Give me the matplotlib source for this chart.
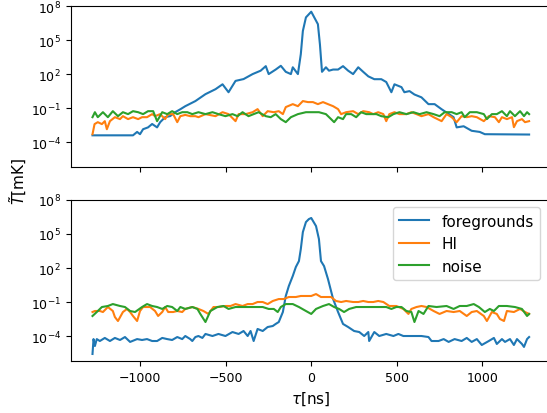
import numpy as np
import matplotlib
matplotlib.use('Agg')
from matplotlib import pyplot as plt
from matplotlib.ticker import FixedLocator, NullLocator

# values, stored as log10(T / mK)
# --- upper panel ---
tau_fg1 = [-1280, -1043, -1019, -1002, -984, -955, -931, -902, -884, -855, -825, -796, -766, -737,
           -678, -619, -560, -519, -484, -443, -396, -343, -296, -266, -249, -208, -178, -149, -119,
           -108, -78, -61, -49, -31, 0, 39, 51, 63, 86, 104, 128, 157, 186, 216, 245, 275, 304, 334,
           369, 410, 439, 469, 487, 528, 545, 575, 604, 645, 686, 722, 763, 833, 851, 892, 939, 986,
           1016, 1275]
fg1 = [-3.4, -3.4, -3.1, -3.3, -2.86, -2.7, -2.4, -2.7, -2.24, -1.8, -1.7, -1.36, -1.1, -0.83,
       -0.38, 0.23, 0.67, 1.1, 0.4, 1.4, 1.56, 2.0, 2.3, 2.7, 2.0, 2.4, 2.73, 2.2, 2.0,
       2.6, 2.0, 3.76, 5.8, 7.0, 7.5, 6.4, 4.6, 2.2, 2.6, 2.3, 2.4, 2.4, 2.7, 2.3, 2.0, 2.6, 2.2, 1.8,
       1.55, 1.55, 1.3, 0.4, 1.1, 0.85, 0.4, 0.5, 0.2, -0.05, -0.65, -0.65, -1.1, -1.8, -2.7, -2.6,
       -3.0, -3.1, -3.3, -3.33]

tau_hi1 = [-1280, -1268, -1249, -1225, -1208, -1196, -1178, -1149, -1119, -1102, -1072, -1043, -1013,
           -990, -961, -931, -914, -884, -855, -837, -808, -784, -766, -737, -708, -678, -660, -619,
           -560, -519, -484, -443, -425, -384, -343, -314, -284, -255, -219, -190, -166, -149, -108,
           -78, -49, -19, 10, 39, 69, 98, 128, 157, 175, 204, 245, 275, 304, 339, 363, 392, 422, 439,
           457, 487, 516, 557, 586, 616, 645, 686, 716, 763, 792, 822, 851, 880, 910, 939, 969, 1010,
           1039, 1075, 1098, 1116, 1145, 1175, 1186, 1204, 1233, 1251, 1275]
hi1 = [-3.3, -2.41, -2.24, -2.41, -2.15, -2.86, -2.15, -1.8, -1.97, -1.71, -1.97, -1.8, -1.97,
       -1.8, -1.8, -1.53, -1.71, -1.53, -1.97, -1.53, -1.53, -2.24, -1.71, -1.6, -1.71, -1.71, -1.8, -1.53,
       -1.71, -1.36, -1.53, -2.15, -1.53, -1.53, -1.36, -1.09, -1.71, -1.27, -1.36, -1.27, -1.53, -0.91, -0.65,
       -0.83, -0.38, -0.47, -0.47, -0.65, -0.47, -0.65, -0.83, -1.09, -1.53, -1.36, -1.27, -1.53, -1.27, -1.36, -1.53, -1.36, -1.53, -2.15,
       -1.53, -1.36, -1.53, -1.53, -1.36, -1.53, -1.71, -1.53, -1.8, -2.15, -1.53, -1.8, -2.24, -1.71, -1.8, -1.71, -1.8, -2.15,
       -1.71, -1.8, -2.24, -1.8, -1.97, -1.8, -2.68, -2.15, -1.97, -2.24, -2.15]

tau_no1 = [-1280, -1266, -1249, -1219, -1190, -1161, -1131, -1102, -1072, -1043, -1013, -984, -955,
           -925, -902, -872, -843, -814, -784, -755, -725, -696, -660, -619, -578, -543, -502, -461,
           -431, -402, -367, -337, -308, -266, -237, -208, -178, -149, -119, -78, -31, 10, 45, 86,
           116, 134, 157, 186, 204, 234, 263, 292, 322, 351, 381, 410, 451, 481, 516, 557, 598, 634,
           675, 716, 751, 781, 822, 851, 880, 898, 928, 969, 1010, 1028, 1057, 1086, 1116, 1145,
           1163, 1192, 1222, 1245, 1263, 1275]
no1 = [-1.8, -1.36, -1.8, -1.36, -1.8, -1.27, -1.71, -1.36, -1.53, -1.27, -1.36, -1.53, -1.27,
       -1.27, -2.15, -1.36, -1.53, -1.27, -1.53, -1.36, -1.36, -1.53, -1.36, -1.53, -1.36, -1.53, -1.71, -1.53,
       -1.71, -1.36, -1.71, -1.53, -1.36, -1.71, -1.8, -1.53, -1.97, -2.24, -1.8, -1.53, -1.36, -1.36, -1.36, -1.53,
       -1.97, -2.24, -1.8, -1.97, -1.53, -1.53, -1.8, -1.36, -1.53, -1.53, -1.53, -1.71, -1.8, -1.53, -1.36, -1.53, -1.36, -1.53,
       -1.36, -1.53, -1.71, -1.36, -1.36, -1.53, -1.36, -1.8, -1.36, -1.36, -1.53, -1.97, -1.53, -1.53, -1.27, -1.71,
       -1.27, -1.71, -1.27, -1.71, -1.36, -1.53]

# --- lower panel ---
tau_fg2 = [-1280, -1274, -1266, -1255, -1237, -1208, -1178, -1149, -1119, -1090, -1060, -1019, -990,
           -961, -931, -902, -872, -843, -814, -784, -755, -737, -708, -696, -678, -660, -637, -619,
           -578, -543, -502, -461, -425, -396, -372, -355, -337, -314, -284, -255, -225, -208, -190,
           -166, -149, -131, -108, -90, -72, -61, -49, -31, -14, 0, 28, 45, 57, 75, 98, 128, 157, 186,
           216, 251, 281, 310, 334, 339, 369, 398, 439, 481, 510, 539, 575, 616, 645, 686, 704, 745,
           775, 804, 839, 880, 910, 939, 969, 998, 1039, 1069, 1086, 1116, 1134, 1163, 1186, 1204,
           1233, 1245, 1263, 1275]
fg2 = [-5.56, -4.25, -4.86, -4.25, -4.42, -4.15, -4.42, -4.15, -4.33, -4.07, -4.5, -4.25, -4.33,
       -4.25, -4.42, -4.42, -4.15, -4.25, -4.33, -4.07, -4.25, -3.98, -4.25, -4.42, -4.07, -3.98, -4.15, -3.8,
       -3.98, -3.8, -3.98, -3.63, -3.8, -3.54, -3.98, -3.54, -4.42, -3.36, -3.54, -3.19, -3.1, -2.92, -2.75,
       -1.87, -0.46, 0.42, 1.3, 2.09, 2.61, 3.67, 5.16, 6.04, 6.3, 6.4, 5.69, 4.55, 2.61, 2.17, 1.03, -0.73, -1.87, -2.92,
       -3.19, -3.54, -3.63, -3.98, -3.63, -4.42, -3.63, -3.98, -3.8, -3.98, -3.8, -3.98, -3.98, -3.98, -3.98, -4.07, -4.42, -4.42,
       -4.25, -4.5, -4.25, -4.42, -4.15, -4.5, -4.25, -4.77, -4.42, -4.15, -4.68, -4.25, -4.5, -4.25, -4.77, -4.25,
       -4.68, -4.94, -4.25, -4.07]

tau_hi2 = [-1280, -1266, -1237, -1219, -1190, -1161, -1149, -1131, -1102, -1078, -1060, -1043, -1019,
           -1002, -984, -943, -914, -896, -872, -855, -837, -808, -784, -755, -737, -696, -660, -631,
           -602, -572, -543, -502, -472, -443, -402, -372, -343, -314, -284, -255, -225, -190, -161,
           -131, -90, -61, -31, 0, 28, 57, 86, 116, 145, 175, 204, 245, 275, 304, 334, 363, 392, 422,
           457, 498, 539, 569, 586, 616, 645, 675, 716, 751, 792, 833, 869, 910, 939, 969, 1010, 1028,
           1057, 1086, 1104, 1128, 1145, 1186, 1222, 1251, 1275]
hi2 = [-1.87, -1.78, -1.78, -1.87, -1.43, -1.78, -2.31, -2.66, -1.87, -1.6, -1.87, -2.22, -2.66,
       -1.78, -1.43, -1.43, -1.78, -2.22, -1.87, -1.43, -1.87, -1.87, -1.78, -1.87, -1.6, -1.43, -1.6, -1.78,
       -2.04, -1.43, -1.43, -1.34, -1.34, -1.17, -1.34, -1.17, -1.17, -0.99, -0.99, -1.17, -0.9, -0.73, -0.73,
       -0.55, -0.55, -0.46, -0.46, -0.46, -0.29, -0.55, -0.55, -0.55, -0.9, -0.99, -0.9, -0.99, -0.99, -0.9, -0.99, -0.99, -0.9, -0.99,
       -1.34, -1.34, -1.6, -2.04, -1.6, -1.43, -1.34, -1.43, -1.78, -2.04, -1.78, -1.87, -1.78, -2.22, -1.87, -1.78, -2.22, -2.66,
       -1.87, -2.04, -2.48, -2.66, -1.78, -1.87, -1.6, -1.87, -2.04]

tau_no2 = [-1280, -1255, -1225, -1190, -1161, -1119, -1090, -1060, -1031, -990, -961, -931, -902,
           -872, -843, -814, -784, -766, -737, -696, -666, -649, -619, -590, -549, -513, -484, -443,
           -402, -367, -325, -284, -249, -219, -196, -178, -149, -108, -72, -31, 0, 28, 69, 104, 134,
           163, 192, 222, 263, 310, 363, 398, 439, 469, 498, 528, 557, 586, 604, 628, 657, 686, 733,
           792, 833, 869, 910, 951, 981, 1016, 1045, 1069, 1098, 1145, 1192, 1233, 1263, 1275]
no2 = [-2.22, -1.87, -1.43, -1.34, -1.17, -1.34, -1.43, -1.78, -1.87, -1.43, -1.17, -1.34, -1.43,
       -1.6, -1.34, -1.43, -1.78, -1.43, -1.6, -1.43, -1.6, -2.04, -2.75, -1.78, -1.43, -1.34, -1.6, -1.43,
       -1.43, -1.43, -1.43, -1.43, -1.6, -1.6, -1.87, -1.43, -1.17, -1.17, -1.43, -1.78, -2.04, -1.6, -1.34, -1.17, -1.43,
       -1.6, -1.87, -1.6, -1.43, -1.43, -1.43, -1.43, -1.43, -1.6, -1.43, -1.43, -1.78, -1.87, -2.75, -1.78, -2.04, -1.34, -1.43,
       -1.34, -1.6, -1.34, -1.34, -1.17, -1.43, -1.87, -1.6, -1.78, -1.34, -1.34, -1.43, -1.6, -2.22, -2.04]

labels = ['foregrounds', 'HI', 'noise']
ytick_vals = [1e-4, 1e-1, 1e2, 1e5, 1e8]

panels = [
    [(tau_fg1, fg1), (tau_hi1, hi1), (tau_no1, no1)],
    [(tau_fg2, fg2), (tau_hi2, hi2), (tau_no2, no2)],
]

fig = plt.figure(figsize=(5.47, 4.14), dpi=100)
ax1 = fig.add_axes([0.1292, 0.594, 0.878, 0.389])
ax2 = fig.add_axes([0.1292, 0.125, 0.878, 0.390], sharex=ax1)

for ax, series in zip([ax1, ax2], panels):
    for (t, v), lab in zip(series, labels):
        ax.plot(t, 10 ** np.array(v), label=lab)
    ax.set_yscale('log')
    ax.set_ylim(10 ** -6.2, 1e8)
    ax.yaxis.set_major_locator(FixedLocator(ytick_vals))
    ax.yaxis.set_minor_locator(NullLocator())
    ax.tick_params(labelsize=9)

ax1.tick_params(labelbottom=False)
ax2.set_xticks([-1000, -500, 0, 500, 1000])
ax2.set_xlabel(r'$\tau$[ns]', fontsize=11)
ax2.legend(loc='upper right', fontsize=11, bbox_to_anchor=(0.993, 1.0))
fig.text(0.033, 1 - 182 / 414, r'$\tilde{T}$[mK]', rotation=90, va='center', ha='center', fontsize=11)

fig.savefig('out.png', dpi=100)
